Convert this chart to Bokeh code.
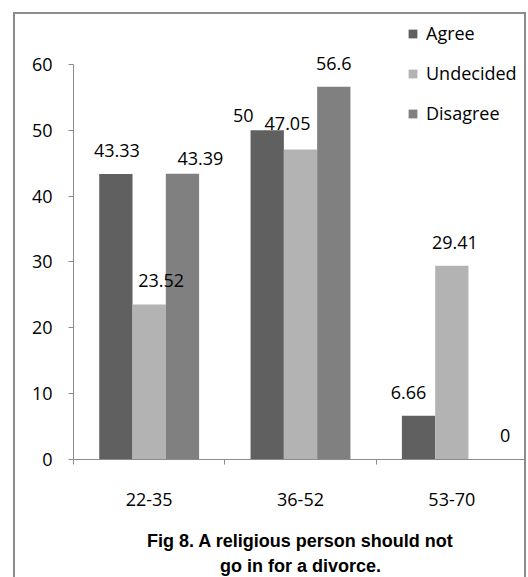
from bokeh.plotting import figure
from bokeh.models import Range1d, FixedTicker, Title, ColumnDataSource
from bokeh.embed import file_html
from bokeh.resources import INLINE
from bokeh.core.properties import value

# ---- data ----
age_groups = ["22-35", "36-52", "53-70"]
agree = [43.33, 50, 6.66]
undecided = [23.52, 47.05, 29.41]
disagree = [43.39, 56.6, 0]
series_names = ["Agree", "Undecided", "Disagree"]
y_ticks = [0, 10, 20, 30, 40, 50, 60]
title_lines = ["Fig 8. A religious person should not", "go in for a divorce."]

# ---- style ----
colors = ["#606060", "#b3b3b3", "#808080"]
axis_color = "#8c8c8c"
font = "Open Sans"
bar_w = 0.22
# hand-placed label nudges (px) as in the original figure
label_dx = [[1, -24, -10], [12, -13, 3], [18, 0, 20]]
label_dy = [[-24, -15, -23], [-24, -26, -23], [-15, -23, -24]]

p = figure(width=513, height=565, x_range=Range1d(0, 3), y_range=Range1d(0, 66.5),
           output_backend="svg", toolbar_location=None,
           min_border_left=58, min_border_right=1, min_border_top=7, min_border_bottom=120,
           margin=(12, 0, 0, 13),
           styles={"border": "2px solid #8c8c8c", "border-bottom": "none",
                   "box-sizing": "border-box"})
p.outline_line_color = None
p.xgrid.visible = False
p.ygrid.visible = False
p.background_fill_color = "white"
p.border_fill_color = "white"

series = [agree, undecided, disagree]
sources = []
for k, (name, vals, col) in enumerate(zip(series_names, series, colors)):
    xs = [i + 0.5 + (k - 1) * bar_w for i in range(len(age_groups))]
    src = ColumnDataSource(dict(x=xs, top=vals, lab=[f"{v:g}" for v in vals],
                                dx=label_dx[k], dy=label_dy[k]))
    sources.append(src)
    p.vbar(x="x", top="top", width=bar_w, source=src, fill_color=col, line_color=None,
           legend_label=name)
for src in sources:
    p.text(x="x", y="top", text="lab", source=src, x_offset="dx", y_offset="dy",
           text_align="center", text_baseline="middle", text_font=value(font),
           text_font_size="18px", text_color="#000000")

# y axis
ya = p.yaxis[0]
ya.ticker = FixedTicker(ticks=y_ticks)
ya.bounds = (0, 60)
ya.axis_line_color = axis_color
ya.major_tick_line_color = axis_color
ya.major_tick_out = 5
ya.major_tick_in = 0
ya.minor_tick_line_color = None
ya.major_label_standoff = 16
ya.major_label_text_font = font
ya.major_label_text_font_size = "18px"
ya.major_label_text_color = "#000000"

# x axis
xa = p.xaxis[0]
centers = [i + 0.5 for i in range(len(age_groups))]
xa.ticker = FixedTicker(ticks=centers, minor_ticks=list(range(len(age_groups) + 1)))
xa.major_label_overrides = {c: g for c, g in zip(centers, age_groups)}
xa.axis_line_color = axis_color
xa.major_tick_line_color = None
xa.major_tick_out = 0
xa.major_tick_in = 0
xa.minor_tick_line_color = axis_color
xa.minor_tick_out = 5
xa.minor_tick_in = 0
xa.major_label_standoff = 28
xa.major_label_text_font = font
xa.major_label_text_font_size = "18px"
xa.major_label_text_color = "#000000"
# first caption line as the axis label, second as a title below it
xa.axis_label = title_lines[0]
xa.axis_label_standoff = 22
xa.axis_label_text_font = "Liberation Sans"
xa.axis_label_text_font_style = "bold"
xa.axis_label_text_font_size = "18px"
xa.axis_label_text_color = "#000000"

t2 = Title(text=title_lines[1], align="center", text_font="Liberation Sans",
           text_font_style="bold", text_font_size="18px", text_color="#000000",
           standoff=0, offset=0)
p.add_layout(t2, "below")

# legend
lg = p.legend[0]
lg.location = (334, 334)
lg.border_line_color = None
lg.background_fill_alpha = 0
lg.margin = 0
lg.padding = 7
lg.glyph_width = 11
lg.glyph_height = 11
lg.label_standoff = 8
lg.spacing = 16
lg.label_text_font = font
lg.label_text_font_size = "18px"
lg.label_text_color = "#000000"

open("out.html", "w").write(file_html(p, INLINE))
